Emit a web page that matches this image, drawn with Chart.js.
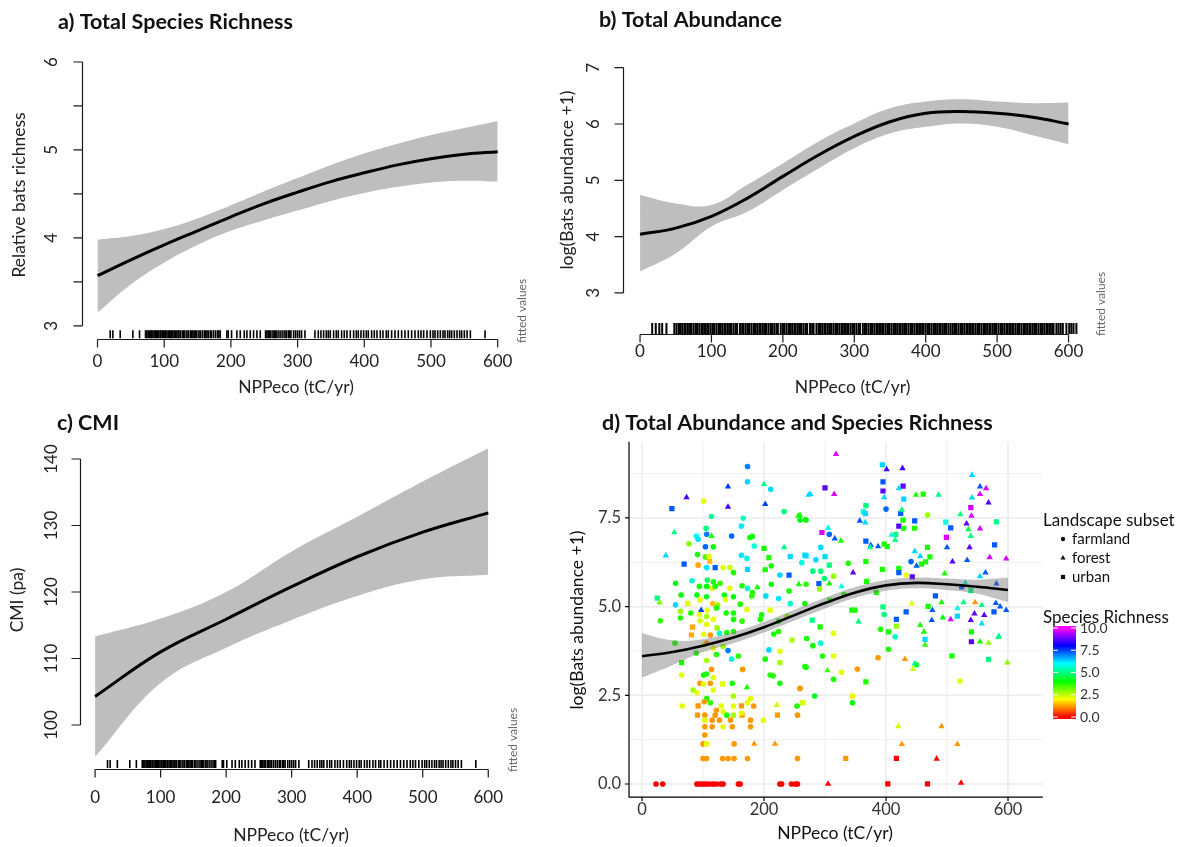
<!DOCTYPE html>
<html>
<head>
<meta charset="utf-8">
<script src="https://cdn.jsdelivr.net/npm/chart.js@4.4.1/dist/chart.umd.min.js"></script>
<style>
  body { margin: 0; background: #fff; width: 1189px; height: 847px; position: relative; overflow: hidden; }
  canvas { position: absolute; }
</style>
</head>
<body>
<canvas id="chartA" width="545" height="400" style="left:0;top:0"></canvas>
<canvas id="chartB" width="644" height="400" style="left:545px;top:0"></canvas>
<canvas id="chartC" width="545" height="447" style="left:0;top:400px"></canvas>
<canvas id="chartD" width="644" height="447" style="left:545px;top:400px"></canvas>
<script>
// ---- data ----
const nppSteps = [0, 50, 100, 150, 200, 250, 300, 350, 400, 450, 500, 550, 600];
const nppHundreds = [0, 100, 200, 300, 400, 500, 600];

// a) species richness fit
const richFit   = [3.57, 3.75, 3.92, 4.08, 4.24, 4.39, 4.52, 4.64, 4.74, 4.83, 4.90, 4.95, 4.98];
const richUpper = [3.98, 4.02, 4.10, 4.22, 4.37, 4.53, 4.68, 4.83, 4.96, 5.07, 5.17, 5.25, 5.33];
const richLower = [3.15, 3.47, 3.72, 3.92, 4.08, 4.20, 4.31, 4.42, 4.51, 4.58, 4.63, 4.65, 4.64];

// b) total abundance fit
const abunFit   = [4.04, 4.15, 4.36, 4.68, 5.07, 5.45, 5.78, 6.04, 6.19, 6.22, 6.19, 6.12, 6.00];
const abunUpper = [4.74, 4.59, 4.56, 4.92, 5.30, 5.69, 6.01, 6.28, 6.40, 6.44, 6.40, 6.37, 6.38];
const abunLower = [3.38, 3.70, 4.18, 4.44, 4.83, 5.21, 5.57, 5.83, 5.95, 6.01, 5.95, 5.80, 5.64];

// c) CMI fit
const cmiFit   = [104.3, 111.0, 115.9, 120.8, 125.3, 129.0, 131.9];
const cmiUpper = [113.3, 116.0, 120.0, 126.1, 131.3, 136.6, 141.6];
const cmiLower = [95.2, 106.3, 111.6, 115.8, 119.4, 121.9, 122.6];

// d) abundance fit over the scatter
const dFit   = [3.60, 3.72, 3.90, 4.13, 4.42, 4.76, 5.10, 5.40, 5.60, 5.67, 5.63, 5.56, 5.47];
const dUpper = [4.25, 4.05, 4.08, 4.29, 4.57, 4.91, 5.25, 5.55, 5.75, 5.82, 5.79, 5.76, 5.82];
const dLower = [3.00, 3.35, 3.72, 3.97, 4.27, 4.61, 4.95, 5.25, 5.45, 5.52, 5.47, 5.36, 5.12];

// rug of sampled sites (NPPeco)
const rugSites = [19, 23, 34, 53, 63, 72, 74, 76, 78, 80, 81, 83, 85, 87, 88, 90, 92, 94, 95, 97, 99, 101, 102, 104,
  106, 108, 110, 111, 113, 115, 117, 119, 121, 122, 124, 127, 129, 131, 134, 136, 139, 141, 143, 145, 147, 149, 152,
  154, 157, 160, 162, 164, 166, 169, 171, 174, 177, 180, 182, 184, 194, 196, 201, 209, 214, 220, 224, 229, 234, 239,
  244, 252, 254, 256, 258, 260, 263, 265, 267, 269, 272, 275, 278, 281, 283, 286, 288, 290, 294, 297, 300, 303, 306,
  311, 326, 331, 335, 339, 343, 346, 349, 354, 358, 361, 366, 370, 374, 379, 384, 388, 391, 395, 399, 403, 406, 411,
  415, 419, 424, 428, 433, 436, 441, 446, 451, 456, 461, 466, 471, 476, 481, 485, 489, 494, 499, 503, 506, 510, 514,
  518, 521, 525, 528, 531, 535, 539, 543, 546, 550, 554, 559, 581];
const rugSitesAll = [17, 22, 27, 31, 37, 48, 51, 54, 56, 59, 62, 64, 67, 70, 72, 75, 78, 80, 83, 86, 88, 91, 94, 96,
  99, 102, 104, 107, 110, 112, 115, 118, 120, 123, 126, 128, 131, 134, 136, 140, 143, 145, 148, 151, 153, 156, 159,
  161, 164, 167, 169, 172, 175, 177, 180, 183, 185, 188, 191, 193, 197, 200, 202, 205, 208, 210, 213, 216, 218, 221,
  224, 226, 229, 232, 234, 238, 241, 243, 247, 250, 252, 255, 258, 260, 263, 266, 268, 271, 274, 276, 279, 282, 284,
  287, 290, 292, 295, 298, 300, 303, 306, 308, 312, 315, 317, 320, 323, 325, 328, 331, 333, 336, 339, 341, 344, 347,
  349, 352, 355, 357, 360, 363, 365, 368, 371, 373, 376, 379, 381, 384, 387, 389, 392, 395, 397, 400, 403, 405, 408,
  411, 413, 416, 419, 421, 424, 427, 429, 432, 435, 438, 441, 443, 446, 449, 451, 454, 457, 459, 462, 465, 467, 470,
  473, 475, 478, 481, 483, 486, 489, 491, 494, 497, 499, 502, 505, 507, 510, 513, 515, 518, 521, 523, 526, 529, 531,
  534, 537, 539, 542, 545, 547, 550, 553, 555, 558, 561, 563, 566, 569, 571, 574, 577, 579, 583, 586, 589, 592, 597,
  601, 604, 607, 611];

// d) sites: [NPPeco, log(abundance+1), species richness]
const farmland = [
  [173, 8.95, 7], [173, 8.52, 6.3], [211, 8.31, 6.3], [101, 7.98, 2.2], [114, 7.54, 5.2], [166, 7.49, 5.5],
  [163, 7.27, 6.2], [233, 7.68, 5], [259, 7.44, 4.2], [269, 7.44, 4], [105, 7.21, 5], [106, 7.04, 7], [89, 6.99, 6],
  [92, 6.9, 6.2], [147, 6.99, 7.2], [177, 6.95, 4], [181, 6.98, 3.8], [77, 6.77, 3], [104, 6.69, 7.2], [117, 6.69, 4],
  [184, 6.71, 5.7], [91, 6.47, 3.8], [104, 6.4, 3.5], [110, 6.42, 2.2], [92, 6.17, 1.3], [106, 6.1, 6.2],
  [163, 6.45, 6.2], [172, 6.36, 5.7], [133, 6.1, 2.2], [144, 6.1, 2.4], [150, 5.96, 3.8], [212, 6.15, 3.8],
  [226, 5.89, 6.3], [82, 5.73, 5.6], [55, 5.66, 4.2], [107, 5.75, 4.8], [117, 5.7, 3.8], [128, 5.66, 3.6],
  [94, 5.57, 3.8], [106, 5.57, 4], [115, 5.52, 2.3], [120, 5.57, 3.7], [144, 5.52, 2.2], [164, 5.59, 3.8],
  [173, 5.52, 5.6], [181, 5.4, 3.8], [212, 5.63, 4], [241, 5.44, 3.8], [269, 5.63, 3.7], [64, 5.33, 4],
  [55, 5.05, 6.3], [90, 5.33, 4], [95, 5.19, 2.2], [106, 5.28, 4.2], [116, 5.09, 1.5], [124, 5.05, 2.8],
  [135, 5.33, 4], [137, 5.2, 2.2], [150, 5.28, 4], [161, 5.07, 3.7], [180, 5.3, 3.6], [203, 5.3, 6.3],
  [224, 5.23, 6.2], [243, 5.09, 5.6], [107, 4.9, 2.2], [122, 4.96, 3.8], [63, 4.87, 2.8], [80, 4.82, 3.7],
  [94, 4.78, 2.2], [106, 4.72, 2.7], [138, 4.82, 3.8], [150, 4.82, 3.8], [172, 4.92, 2.2], [196, 4.77, 3.8],
  [30, 4.6, 3.6], [95, 4.6, 2.3], [106, 4.5, 2.2], [117, 4.64, 2.1], [63, 4.68, 3.8], [123, 4.4, 2.8],
  [150, 4.64, 3.8], [164, 4.59, 3.6], [194, 4.64, 3.7], [224, 4.59, 3.8], [238, 4.73, 2.8],
  [101, 4.22, 2.2], [112, 4.2, 1.2], [127, 4.25, 5.6], [139, 4.27, 3.8], [150, 4.3, 3.7], [54, 3.97, 3.8],
  [101, 3.92, 2.2], [106, 3.97, 1.2], [117, 3.83, 2.2], [133, 3.88, 2.8], [141, 3.76, 7], [147, 3.52, 5.7],
  [158, 3.61, 3.7], [122, 3.65, 3.8], [89, 3.69, 3.8], [65, 3.07, 2.2], [106, 3.48, 2.7], [114, 3.23, 1.2],
  [101, 3.07, 3.8], [106, 3.1, 3.8], [117, 3.0, 2.2], [148, 2.84, 3.8], [165, 3.23, 1.2], [210, 3.07, 3.8],
  [215, 3.05, 3.7], [208, 3.78, 6.3], [202, 3.52, 3.8], [226, 3.74, 2.2], [226, 3.42, 2.7], [226, 2.84, 3.8],
  [259, 2.70, 1.2], [267, 3.31, 3.8], [84, 2.65, 2.7], [90, 2.57, 2.2], [95, 2.84, 1.2], [101, 2.82, 2.2],
  [112, 2.84, 1.2], [117, 2.65, 2.2], [106, 2.41, 3.8], [150, 2.48, 2.7], [178, 2.41, 2.2], [66, 2.2, 2.2],
  [102, 2.32, 1.2], [112, 2.29, 3.6], [130, 2.2, 2.2], [150, 2.2, 2.2], [173, 2.29, 2.2], [183, 2.2, 1.2],
  [254, 2.2, 3.8], [122, 2.08, 1.2], [133, 2.04, 2.2], [163, 2.0, 2.2], [103, 1.94, 1.2], [120, 1.94, 1.2],
  [139, 1.94, 3.7], [150, 1.94, 2.7], [178, 1.8, 1.2], [199, 1.8, 2.2], [255, 1.94, 1.2], [103, 1.80, 2.2],
  [115, 1.80, 1.2], [127, 1.80, 1.2], [145, 1.80, 1.2], [103, 1.61, 1.2], [115, 1.61, 1.2], [133, 1.61, 2.2],
  [148, 1.61, 1.2], [178, 1.61, 1.2], [103, 1.38, 1.2], [100, 1.13, 1.2], [106, 1.13, 2.2], [151, 1.13, 1.2],
  [100, 0.72, 1.2], [106, 0.72, 1.2], [132, 0.72, 1.2], [141, 0.72, 1.2], [151, 0.72, 1.2], [173, 0.72, 1.2],
  [255, 0.72, 1.2],
  [23, 0, 0], [34, 0, 0], [90, 0, 0], [94, 0, 0], [98, 0, 0], [102, 0, 0], [106, 0, 0], [111, 0, 0], [117, 0, 0],
  [122, 0, 0], [129, 0, 0], [133, 0, 0], [158, 0, 0], [161, 0, 0], [226, 0, 0], [229, 0, 0], [245, 0, 0],
  [251, 0, 0], [255, 0, 0],
  [216, 4.23, 3.8], [224, 4.3, 3.7], [246, 4.06, 2.7], [270, 4.1, 3.8],
  [314, 4.25, 2.2], [280, 3.9, 3.8], [293, 3.97, 5.6], [269, 3.29, 3.8], [296, 3.61, 3.8], [314, 3.61, 2.2],
  [314, 2.95, 3.8], [327, 3.15, 2.2], [353, 3.24, 1.2], [387, 3.56, 1.2], [404, 3.8, 3.8], [415, 4.15, 5.6],
  [450, 3.36, 4.5], [521, 2.9, 2.2], [283, 2.48, 4.2], [345, 2.29, 4], [259, 2.69, 1.2],
  [400, 7.75, 7.2], [468, 7.58, 2.8], [307, 7.04, 7.2], [441, 6.27, 7.2], [285, 6.32, 6.3], [293, 6.67, 6.3],
  [262, 6.24, 5.8], [338, 6.22, 3.8], [433, 5.89, 2.2], [280, 6.0, 5], [293, 6.0, 5], [314, 5.86, 2.8],
  [299, 5.79, 5], [331, 5.34, 3.8], [391, 4.36, 3.8], [397, 4.78, 5], [267, 5.09, 3.8], [291, 5.5, 2.8]
];
const forest = [
  [200, 8.45, 5], [141, 8.38, 7.5], [73, 8.08, 8.5], [141, 7.81, 8.5], [202, 7.89, 7.5], [256, 7.56, 3.8],
  [273, 8.15, 6.3], [53, 7.09, 5], [114, 6.99, 3.8], [233, 6.67, 5], [39, 6.44, 6.3], [189, 5.54, 3.8],
  [257, 5.63, 3.8], [29, 5.11, 3], [97, 4.9, 7.5],
  [172, 2.72, 3.8], [221, 2.22, 2.4], [184, 1.13, 1.2], [218, 1.13, 1.2],
  [304, 3.2, 3.5], [431, 3.52, 1.2], [447, 3.4, 5.6], [444, 3.24, 2.4], [464, 3.92, 3.6], [554, 4.01, 3.8],
  [568, 3.98, 2.8], [585, 4.17, 5.2], [599, 3.42, 3], [420, 1.62, 2.4], [491, 1.62, 1.2], [426, 1.12, 1.2],
  [517, 1.12, 1.2], [483, 0.71, 0], [305, 0, 0], [523, 0.03, 0],
  [318, 9.3, 9.7], [401, 8.87, 8.5], [427, 8.9, 8.5], [541, 8.71, 6.3], [315, 8.17, 9.7], [276, 8.17, 6.3],
  [421, 8.33, 6.3], [397, 8.08, 6.3], [449, 8.15, 3.8], [486, 8.15, 5], [554, 8.38, 7.3], [564, 8.33, 9.7],
  [554, 8.17, 9.7], [541, 8.07, 6.3], [568, 7.93, 8.7], [522, 7.6, 5], [540, 7.56, 9.7], [426, 7.73, 5],
  [357, 7.42, 7.3], [366, 7.37, 6.3], [267, 7.45, 3.8], [259, 7.58, 3.8], [532, 7.34, 8.7], [535, 7.18, 4.5],
  [554, 7.2, 9.7], [539, 6.99, 5], [500, 6.67, 7.3], [537, 6.67, 8.7], [305, 7.21, 5.8], [316, 6.92, 7.3],
  [326, 6.85, 3.8], [409, 7.02, 5.8], [375, 6.73, 7.3], [387, 6.70, 7.3], [415, 6.88, 5], [374, 6.67, 5],
  [447, 6.56, 6.3], [456, 6.42, 6.3], [450, 6.15, 7.3], [509, 6.27, 8.7], [533, 6.31, 7.3], [570, 6.39, 9.7],
  [597, 6.35, 9.7], [346, 5.96, 8.7], [307, 5.65, 3.8], [327, 5.57, 5.8], [496, 5.93, 3.8], [563, 5.96, 7.3],
  [554, 5.85, 6.3], [530, 5.67, 5.8], [581, 5.65, 7.3], [442, 5.09, 2.2], [476, 4.9, 7.3], [491, 5.12, 3.8],
  [517, 4.95, 5.8], [527, 5.12, 5], [546, 5.12, 1.2], [557, 5.04, 5], [580, 5.10, 7.3], [587, 5.0, 7.3],
  [597, 4.9, 7.3], [561, 4.76, 8.7], [539, 4.62, 8.7], [506, 4.64, 9.7], [493, 4.69, 4], [475, 4.62, 7.3],
  [456, 4.48, 3.8], [462, 4.29, 3.8], [355, 4.58, 5], [584, 4.14, 5], [557, 4.52, 6.3], [545, 4.8, 8.7]
];
const urban = [
  [49, 7.76, 7.3], [200, 6.64, 3.8], [69, 6.2, 7.3], [111, 6.28, 1.5], [120, 6.1, 7.3], [173, 6.05, 6.3],
  [208, 6.38, 3.8], [202, 6.04, 3.8], [243, 6.41, 6.3], [269, 6.43, 6.3], [241, 5.89, 7.3], [25, 5.24, 5],
  [75, 5.09, 2.2], [210, 4.9, 2.2], [83, 4.42, 1.3],
  [81, 4.2, 1.3], [65, 3.42, 3.8], [132, 2.82, 2.2], [92, 2.2, 1.2], [163, 2.2, 1.2], [263, 2.29, 2.8],
  [91, 1.94, 1.2], [164, 1.94, 1.2], [222, 1.94, 1.2],
  [367, 2.88, 3.8], [464, 4.08, 6.3], [508, 3.61, 3.8], [540, 4.01, 8.7], [568, 3.51, 5], [540, 4.29, 3.8],
  [264, 2.29, 2.2], [345, 2.48, 2.2], [334, 0.72, 1.2], [417, 0.72, 0], [403, 0, 0], [468, 0, 0],
  [394, 9.0, 6.3], [300, 8.35, 8.7], [395, 8.52, 7.3], [395, 8.26, 8.7], [428, 8.4, 8.7], [429, 8.03, 6.3],
  [461, 8.17, 3.8], [539, 7.79, 9.7], [581, 7.39, 5], [367, 7.85, 5], [363, 7.68, 5.8], [366, 7.62, 6.3],
  [424, 7.63, 7.3], [447, 7.42, 7.3], [428, 7.44, 3.8], [421, 7.27, 8.7], [429, 7.21, 3.8], [447, 7.21, 3.8],
  [498, 7.38, 5.8], [506, 7.22, 7.3], [499, 6.95, 9.7], [578, 6.74, 7.3], [295, 7.09, 9.7], [416, 7.04, 5],
  [367, 6.85, 7.3], [397, 6.76, 3.8], [402, 6.70, 3.8], [468, 6.67, 3.8], [472, 6.40, 3.8], [465, 6.26, 3.8],
  [458, 6.2, 3.8], [267, 6.45, 6.3], [300, 6.41, 6.3], [307, 6.17, 5], [367, 6.27, 3.8], [394, 6.05, 3.8],
  [421, 6.08, 3.8], [421, 5.96, 7.3], [443, 5.84, 8.7], [290, 5.65, 7.3], [368, 5.71, 3.8], [384, 5.4, 3.8],
  [524, 5.56, 7.3], [539, 5.45, 5], [481, 5.30, 7.3], [469, 5.01, 3.8], [577, 4.85, 7.3], [517, 4.73, 6.3],
  [433, 4.85, 7.3], [417, 4.64, 7.3], [417, 4.45, 2.8], [404, 4.29, 3.8], [395, 4.99, 5], [344, 4.9, 3.8],
  [349, 4.9, 3.8], [308, 5.18, 3.8], [292, 4.43, 3.8], [279, 4.62, 5]
];

const nppTicks = [0, 100, 200, 300, 400, 500, 600];
const richTicks = [3, 3.5, 4, 4.5, 5, 5.5, 6];
const richLabels = [3, 4, 5, 6];
const abunTicks = [3, 4, 5, 6, 7];
const cmiTicks = [100, 110, 120, 130, 140];
const dXTicks = [0, 200, 400, 600];
const dYTicks = [0, 2.5, 5, 7.5];
const richScale = [0, 2.5, 5, 7.5, 10];
const landscapes = ['farmland', 'forest', 'urban'];

// ---- helpers ----
const FONT = 'Lato, "Open Sans", sans-serif';
const richColor = v => `hsl(${30 * v}, 100%, 50%)`;

function rotText(ctx, text, x, y) {
  ctx.save();
  ctx.translate(x, y);
  ctx.rotate(-Math.PI / 2);
  ctx.textAlign = 'center';
  ctx.textBaseline = 'middle';
  ctx.fillText(text, 0, 0);
  ctx.restore();
}

// base-R style axes (offset axis lines, rotated y labels)
const baseAxes = {
  id: 'baseAxes',
  afterDatasetsDraw(chart, args, o) {
    const { ctx, chartArea: area, scales: { x, y } } = chart;
    ctx.save();
    ctx.strokeStyle = '#1a1a1a';
    ctx.lineWidth = 1.2;
    const xb = Math.round(area.bottom) + 0.5;
    const yl = Math.round(area.left) + 0.5;
    ctx.beginPath();
    ctx.moveTo(x.getPixelForValue(o.xTicks[0]), xb);
    ctx.lineTo(x.getPixelForValue(o.xTicks[o.xTicks.length - 1]), xb);
    o.xTicks.forEach(v => {
      const px = x.getPixelForValue(v);
      ctx.moveTo(px, xb);
      ctx.lineTo(px, xb + 8);
    });
    ctx.moveTo(yl, y.getPixelForValue(o.yTicks[0]));
    ctx.lineTo(yl, y.getPixelForValue(o.yTicks[o.yTicks.length - 1]));
    o.yTicks.forEach(v => {
      const py = y.getPixelForValue(v);
      ctx.moveTo(yl, py);
      ctx.lineTo(yl - 9, py);
    });
    ctx.stroke();

    ctx.fillStyle = '#222';
    ctx.font = '17px ' + FONT;
    ctx.textAlign = 'center';
    ctx.textBaseline = 'middle';
    o.xTicks.forEach(v => ctx.fillText(String(v), x.getPixelForValue(v), o.xLabelY));
    o.yLabels.forEach(v => rotText(ctx, String(v), o.yLabelX, y.getPixelForValue(v)));
    ctx.font = '17.5px ' + FONT;
    ctx.fillText(o.xTitle, o.xTitleX, o.xTitleY);
    rotText(ctx, o.yTitle, o.yTitleX, o.yTitleY);

    ctx.font = 'bold 21.5px ' + FONT;
    ctx.fillStyle = '#111';
    ctx.textAlign = 'left';
    ctx.fillText(o.title, o.titleX, o.titleY);

    ctx.font = '12px ' + FONT;
    ctx.fillStyle = '#666';
    rotText(ctx, 'fitted values', o.fittedX, o.fittedY);
    ctx.restore();
  }
};

function curveSet(xs, ys, extra) {
  return Object.assign({
    type: 'line',
    data: xs.map((v, i) => ({ x: v, y: ys[i] })),
    pointRadius: 0,
    pointHoverRadius: 0,
    borderWidth: 0,
    borderColor: 'rgba(0,0,0,0)',
    tension: 0.4,
    fill: false
  }, extra);
}

function basePanel(id, p) {
  return new Chart(document.getElementById(id), {
    type: 'line',
    data: {
      datasets: [
        curveSet(p.xs, p.fit, { borderColor: '#000', borderWidth: 3 }),
        curveSet(p.xs, p.upper, { fill: '+1', backgroundColor: '#bebebe' }),
        curveSet(p.xs, p.lower, {}),
        {
          type: 'line',
          data: p.rug.map(v => ({ x: v, y: p.rugY })),
          showLine: false,
          pointStyle: 'line',
          pointRotation: 90,
          pointRadius: p.rugLen,
          pointHoverRadius: p.rugLen,
          pointBorderWidth: p.rugWidth,
          pointBorderColor: '#000'
        }
      ]
    },
    options: {
      responsive: false,
      animation: false,
      devicePixelRatio: 1,
      events: [],
      layout: { padding: p.pad },
      scales: {
        x: { type: 'linear', min: p.xMin, max: p.xMax, display: false },
        y: { type: 'linear', min: p.yMin, max: p.yMax, display: false }
      },
      plugins: { legend: { display: false }, tooltip: { enabled: false }, baseAxes: p.axes }
    },
    plugins: [baseAxes]
  });
}

// a) Total Species Richness
basePanel('chartA', {
  xs: nppSteps, fit: richFit, upper: richUpper, lower: richLower,
  rug: rugSites, rugY: 2.903, rugLen: 4, rugWidth: 1.6,
  xMin: -24, xMax: 624, yMin: 2.85, yMax: 6.15,
  pad: { left: 81.5, right: 31.3, top: 48.8, bottom: 61 },
  axes: {
    xTicks: nppTicks, yTicks: richTicks, yLabels: richLabels,
    xLabelY: 362, yLabelX: 52,
    xTitle: 'NPPeco (tC/yr)', xTitleX: 296, xTitleY: 387,
    yTitle: 'Relative bats richness', yTitleX: 19, yTitleY: 195,
    title: 'a) Total Species Richness', titleX: 58, titleY: 22,
    fittedX: 522, fittedY: 311
  }
});

// b) Total Abundance
basePanel('chartB', {
  xs: nppSteps, fit: abunFit, upper: abunUpper, lower: abunLower,
  rug: rugSitesAll, rugY: 2.368, rugLen: 5.5, rugWidth: 2,
  xMin: -24, xMax: 640, yMin: 2.27, yMax: 7.16,
  pad: { left: 77.9, right: 91.9, top: 58.7, bottom: 66 },
  axes: {
    xTicks: nppTicks, yTicks: abunTicks, yLabels: abunTicks,
    xLabelY: 352, yLabelX: 48.6,
    xTitle: 'NPPeco (tC/yr)', xTitleX: 307.5, xTitleY: 387,
    yTitle: 'log(Bats abundance +1)', yTitleX: 22, yTitleY: 180,
    title: 'b) Total Abundance', titleX: 54, titleY: 20,
    fittedX: 555.7, fittedY: 304
  }
});

// c) CMI
basePanel('chartC', {
  xs: nppHundreds, fit: cmiFit, upper: cmiUpper, lower: cmiLower,
  rug: rugSites, rugY: 94.14, rugLen: 4, rugWidth: 1.6,
  xMin: -23, xMax: 624, yMin: 93.4, yMax: 143.5,
  pad: { left: 80, right: 41, top: 35.7, bottom: 78.1 },
  axes: {
    xTicks: nppTicks, yTicks: cmiTicks, yLabels: cmiTicks,
    xLabelY: 398, yLabelX: 52,
    xTitle: 'NPPeco (tC/yr)', xTitleX: 291, xTitleY: 435,
    yTitle: 'CMI (pa)', yTitleX: 17, yTitleY: 200,
    title: 'c) CMI', titleX: 57, titleY: 23,
    fittedX: 513, fittedY: 340
  }
});

// d) ggplot-style scatter with smooth
const ggAxes = {
  id: 'ggAxes',
  beforeDatasetsDraw(chart, args, o) {
    const { ctx, chartArea: a, scales: { x, y } } = chart;
    ctx.save();
    ctx.strokeStyle = '#ebebeb';
    const minorX = o.xTicks.slice(1).map((v, i) => (v + o.xTicks[i]) / 2);
    const minorY = o.yTicks.map(v => v + 1.25);
    ctx.lineWidth = 0.8;
    ctx.beginPath();
    minorX.forEach(v => { const p = x.getPixelForValue(v); ctx.moveTo(p, a.top); ctx.lineTo(p, a.bottom); });
    minorY.forEach(v => { const p = y.getPixelForValue(v); ctx.moveTo(a.left, p); ctx.lineTo(a.right, p); });
    ctx.stroke();
    ctx.lineWidth = 1.5;
    ctx.beginPath();
    o.xTicks.forEach(v => { const p = x.getPixelForValue(v); ctx.moveTo(p, a.top); ctx.lineTo(p, a.bottom); });
    o.yTicks.forEach(v => { const p = y.getPixelForValue(v); ctx.moveTo(a.left, p); ctx.lineTo(a.right, p); });
    ctx.stroke();
    ctx.restore();
  },
  afterDatasetsDraw(chart, args, o) {
    const { ctx, chartArea: a, scales: { x, y } } = chart;
    ctx.save();
    ctx.strokeStyle = '#000';
    ctx.lineWidth = 1.2;
    ctx.beginPath();
    ctx.moveTo(a.left, a.top);
    ctx.lineTo(a.left, a.bottom);
    ctx.lineTo(a.right, a.bottom);
    o.xTicks.forEach(v => { const p = x.getPixelForValue(v); ctx.moveTo(p, a.bottom); ctx.lineTo(p, a.bottom + 4); });
    o.yTicks.forEach(v => { const p = y.getPixelForValue(v); ctx.moveTo(a.left, p); ctx.lineTo(a.left - 4, p); });
    ctx.stroke();

    ctx.fillStyle = '#333';
    ctx.font = '16.5px ' + FONT;
    ctx.textBaseline = 'middle';
    ctx.textAlign = 'right';
    o.yTicks.forEach(v => ctx.fillText(v.toFixed(1), a.left - 8, y.getPixelForValue(v)));
    ctx.textAlign = 'center';
    o.xTicks.forEach(v => ctx.fillText(String(v), x.getPixelForValue(v), a.bottom + 13));

    ctx.fillStyle = '#111';
    ctx.font = '17.5px ' + FONT;
    ctx.fillText('NPPeco (tC/yr)', 290, 433);
    rotText(ctx, 'log(Bats abundance +1)', 32, 220);

    ctx.font = 'bold 21.5px ' + FONT;
    ctx.textAlign = 'left';
    ctx.fillText('d) Total Abundance and Species Richness', 57, 23);

    // shape legend
    ctx.font = '17px ' + FONT;
    ctx.fillText('Landscape subset', 498, 121);
    ctx.font = '15px ' + FONT;
    const styles = ['circle', 'triangle', 'rect'];
    landscapes.forEach((name, i) => {
      const ly = 139 + i * 19;
      Chart.helpers.drawPoint(ctx, { pointStyle: styles[i], radius: i === 0 ? 2.2 : 3, rotation: 0, borderWidth: 0 }, 518, ly);
      ctx.fillStyle = '#111';
      ctx.fillText(name, 527, ly);
    });

    // colour bar legend
    ctx.font = '17px ' + FONT;
    ctx.fillText('Species Richness', 498, 218);
    const top = 228, bottom = 317, bx = 508, bw = 23;
    const g = ctx.createLinearGradient(0, bottom, 0, top);
    for (let i = 0; i <= 10; i++) g.addColorStop(i / 10, richColor(i));
    ctx.fillStyle = g;
    ctx.fillRect(bx, top - 2, bw, bottom - top + 4);
    ctx.strokeStyle = '#fff';
    ctx.lineWidth = 1;
    ctx.font = '14px ' + FONT;
    richScale.forEach(v => {
      const py = bottom - (bottom - top) * v / 10;
      ctx.beginPath();
      ctx.moveTo(bx, py); ctx.lineTo(bx + 5, py);
      ctx.moveTo(bx + bw - 5, py); ctx.lineTo(bx + bw, py);
      ctx.stroke();
      ctx.fillStyle = '#333';
      ctx.fillText(v.toFixed(1), bx + bw + 4, py);
    });
    ctx.restore();
  }
};

function pointSet(pts, style, radius) {
  return {
    type: 'line',
    showLine: false,
    data: pts.map(p => ({ x: p[0], y: p[1], rich: p[2] })),
    pointStyle: style,
    pointRadius: radius,
    pointHoverRadius: radius,
    pointBorderWidth: 0,
    pointBorderColor: 'rgba(0,0,0,0)',
    pointBackgroundColor: c => richColor(c.raw ? c.raw.rich : 0)
  };
}

new Chart(document.getElementById('chartD'), {
  type: 'line',
  data: {
    datasets: [
      curveSet(nppSteps, dFit, { borderColor: '#000', borderWidth: 2.6 }),
      curveSet(nppSteps, dUpper, { fill: '+1', backgroundColor: 'rgba(110,110,110,0.42)' }),
      curveSet(nppSteps, dLower, {}),
      pointSet(farmland, 'circle', 2.8),
      pointSet(forest, 'triangle', 3.7),
      pointSet(urban, 'rect', 3.7)
    ]
  },
  options: {
    responsive: false,
    animation: false,
    devicePixelRatio: 1,
    events: [],
    layout: { padding: { left: 84, right: 146.2, top: 41.7, bottom: 49.9 } },
    scales: {
      x: { type: 'linear', min: -21.3, max: 657, display: false },
      y: { type: 'linear', min: -0.37, max: 9.65, display: false }
    },
    plugins: {
      legend: { display: false },
      tooltip: { enabled: false },
      ggAxes: { xTicks: dXTicks, yTicks: dYTicks }
    }
  },
  plugins: [ggAxes]
});
</script>
</body>
</html>
